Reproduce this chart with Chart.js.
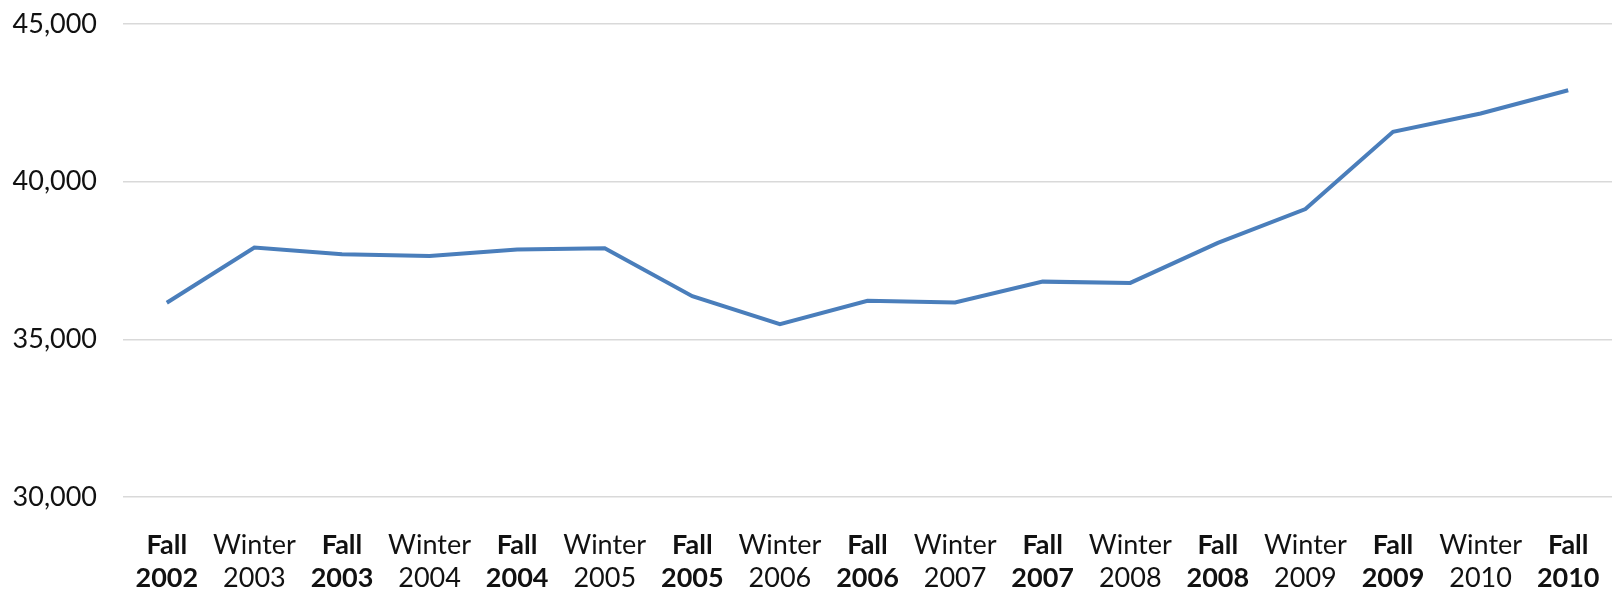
<!DOCTYPE html>
<html>
<head>
<meta charset="utf-8">
<script src="https://cdn.jsdelivr.net/npm/chart.js@4/dist/chart.umd.min.js"></script>
<style>
  html, body { margin: 0; padding: 0; background: #fff; }
  #wrap { width: 1612px; height: 594px; }
</style>
</head>
<body>
<div id="wrap"><canvas id="myChart" width="1612" height="594"></canvas></div>
<script>
// terms along the x axis
const seasons = ["Fall", "Winter", "Fall", "Winter", "Fall", "Winter", "Fall", "Winter", "Fall",
  "Winter", "Fall", "Winter", "Fall", "Winter", "Fall", "Winter", "Fall"];
const years = ["2002", "2003", "2003", "2004", "2004", "2005", "2005", "2006", "2006",
  "2007", "2007", "2008", "2008", "2009", "2009", "2010", "2010"];

// headcount per term
const headcount = [36160, 37910, 37700, 37640, 37850, 37890, 36370, 35480, 36220,
  36170, 36830, 36790, 38060, 39130, 41580, 42160, 42900];

const yTicks = [30000, 35000, 40000, 45000];

const labels = seasons.map((s, i) => [s, years[i]]);
const fontFamily = "Lato, 'Open Sans', sans-serif";

const ctx = document.querySelector("#myChart");

// drop the extra room chart.js keeps for overflowing tick labels
function noLabelPadding(scale) {
  scale.paddingTop = 0;
  scale.paddingBottom = 0;
  scale.paddingLeft = 0;
  scale.paddingRight = 0;
}

new Chart(ctx, {
  type: "line",
  data: {
    labels: labels,
    datasets: [
      {
        label: "Headcount",
        data: headcount,
        borderColor: "#4A7EBB",
        borderWidth: 4,
        pointRadius: 0,
        tension: 0,
        fill: false
      }
    ]
  },
  options: {
    responsive: false,
    animation: false,
    layout: { padding: { top: 24, right: 0, bottom: 0, left: 10 } },
    plugins: {
      legend: { display: false },
      tooltip: { enabled: false }
    },
    scales: {
      x: {
        offset: true,
        grid: { display: false, drawTicks: false },
        border: { display: false },
        afterFit: (scale) => {
          noLabelPadding(scale);
          scale.height = 97;
        },
        ticks: {
          color: "#111",
          padding: 32,
          maxRotation: 0,
          autoSkip: false,
          font: (c) => ({
            family: fontFamily,
            size: 27,
            lineHeight: 1.22,
            weight: c.index % 2 === 0 ? "bold" : "normal" // Fall terms are bold
          })
        }
      },
      y: {
        min: yTicks[0],
        max: yTicks[yTicks.length - 1],
        afterBuildTicks: (scale) => {
          scale.ticks = yTicks.map(v => ({ value: v }));
        },
        afterFit: (scale) => {
          noLabelPadding(scale);
          scale.width = 113;
        },
        grid: { color: "#d9d9d9", lineWidth: 1.5, drawTicks: false },
        border: { display: false },
        ticks: {
          color: "#111",
          padding: 26,
          font: { family: fontFamily, size: 27 },
          callback: (v) => v.toLocaleString("en-US")
        }
      }
    }
  }
});
</script>
</body>
</html>
